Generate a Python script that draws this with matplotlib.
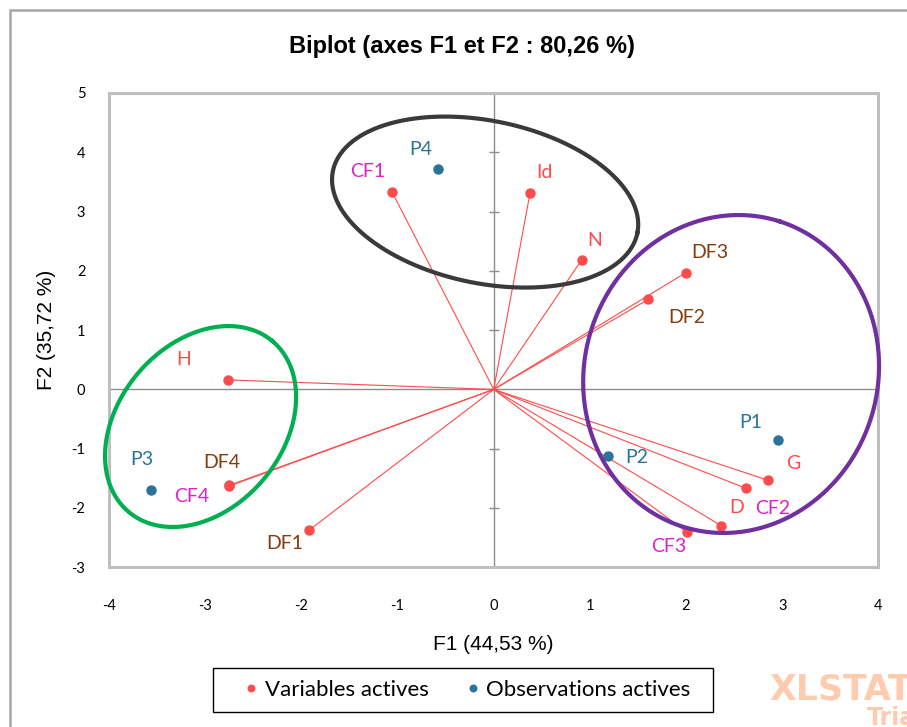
import numpy as np
import matplotlib
matplotlib.use("Agg")
import matplotlib.pyplot as plt
from matplotlib.patches import Rectangle

# ---------------- data ----------------
var_names = ["CF1", "Id", "N", "DF3", "DF2", "H", "DF4", "CF4", "DF1", "G", "CF2", "D", "CF3"]
var_x = [-1.057, 0.379, 0.917, 2.000, 1.609, -2.759, -2.749, -2.752, -1.917, 2.849, 2.628, 2.368, 2.011]
var_y = [3.33, 3.32, 2.19, 1.97, 1.52, 0.16, -1.63, -1.62, -2.37, -1.53, -1.67, -2.30, -2.41]

obs_names = ["P1", "P2", "P3", "P4"]
obs_x = [2.954, 1.186, -3.56, -0.575]
obs_y = [-0.86, -1.13, -1.70, 3.71]

xticks = [-4, -3, -2, -1, 0, 1, 2, 3, 4]
yticks = [-3, -2, -1, 0, 1, 2, 3, 4, 5]

title = "Biplot (axes F1 et F2 : 80,26 %)"
xlabel = "F1 (44,53 %)"
ylabel = "F2 (35,72 %)"
legend_labels = ["Variables actives", "Observations actives"]

# ---------------- styles / positions ----------------
RED = "#FF4B4B"
MAG = "#E020C8"
BROWN = "#843C0C"
BLUE = "#2A7399"
label_color = {"CF1": MAG, "CF2": MAG, "CF3": MAG, "CF4": MAG,
               "DF1": BROWN, "DF2": BROWN, "DF3": BROWN, "DF4": BROWN,
               "Id": RED, "N": RED, "H": RED, "G": RED, "D": RED}
# label offsets (pixels) from the point
var_off = {"CF1": (-24, 20), "Id": (14, 20), "N": (13, 19), "DF3": (24, 20),
           "DF2": (38, -18), "H": (-45, 20), "DF4": (-8, 24), "CF4": (-37, -11),
           "DF1": (-25, -14), "G": (26, 17), "CF2": (26, -20), "D": (15, 18),
           "CF3": (-18, -14)}
obs_off = {"P1": (-27, 18), "P2": (29, -1), "P3": (-10, 31), "P4": (-18, 20)}

# ellipses: center, two conjugate semi-diameter vectors (data units), colour
ellipses = [
    ((-0.089, 3.16), (1.583, -0.523), (-0.168, -1.344), "#3A3A3A"),
    ((2.469, 0.26), (0.503, 2.575), (1.454, -0.747), "#7030A0"),
    ((-3.048, -0.626), (0.748, 1.440), (0.654, -0.893), "#00B050"),
]

CAL = ["Lato", "DejaVu Sans"]
ARIAL = ["Liberation Sans", "DejaVu Sans"]
W, H = 907, 727

fig = plt.figure(figsize=(9.07, 7.27), dpi=100)
ax = fig.add_axes([0.1202, 0.2197, 0.8482, 0.6524])

ax.set_xlim(-4, 4)
ax.set_ylim(-3, 5)

for s in ax.spines.values():
    s.set_color("#BFBFBF")
    s.set_linewidth(2.2)

ax.axhline(0, color="#8C8C8C", lw=1.0, zorder=1)
ax.axvline(0, color="#8C8C8C", lw=1.0, zorder=1)
# tick marks on the vertical zero axis
ax.plot(np.zeros(len(yticks)), yticks, linestyle="none", marker="_",
        markersize=7, markeredgewidth=1.0, color="#8C8C8C", zorder=1, clip_on=False)

ax.set_xticks(xticks)
ax.set_yticks(yticks)
ax.set_xticklabels([str(t) for t in xticks], family=CAL, fontsize=10.5)
ax.set_yticklabels([str(t) for t in yticks], family=CAL, fontsize=10.5)
ax.tick_params(axis="x", length=0, pad=22.5)
ax.tick_params(axis="y", length=0, pad=17)

# vectors
for x, y in zip(var_x, var_y):
    ax.plot([0, x], [0, y], color=RED, lw=0.8, zorder=2)
ax.plot(var_x, var_y, linestyle="none", marker="o", ms=6.5, color=RED,
        zorder=3, label=legend_labels[0])
ax.plot(obs_x, obs_y, linestyle="none", marker="o", ms=6.5, color=BLUE,
        zorder=3, label=legend_labels[1])

for n, x, y in zip(var_names, var_x, var_y):
    ax.annotate(n, (x, y), xytext=var_off[n], textcoords="offset pixels",
                ha="center", va="center", color=label_color[n],
                family=CAL, fontsize=14)
for n, x, y in zip(obs_names, obs_x, obs_y):
    ax.annotate(n, (x, y), xytext=obs_off[n], textcoords="offset pixels",
                ha="center", va="center", color=BLUE,
                family=CAL, fontsize=14)

t = np.linspace(0, 2 * np.pi, 400)
for (cx, cy), (ux, uy), (vx, vy), col in ellipses:
    ex = cx + ux * np.cos(t) + vx * np.sin(t)
    ey = cy + uy * np.cos(t) + vy * np.sin(t)
    ax.plot(ex, ey, color=col, lw=3.0, zorder=4, clip_on=False)

fig.text(462 / W, 1 - 46 / H, title, family=ARIAL, fontsize=17,
         fontweight="bold", ha="center", va="center")
ax.set_xlabel(xlabel, family=ARIAL, fontsize=15, labelpad=16)
ax.set_ylabel(ylabel, family=ARIAL, fontsize=15, labelpad=11)

h, l = ax.get_legend_handles_labels()
leg = fig.legend(h, l, loc="center", bbox_to_anchor=(467.5 / W, 1 - 690 / H), ncol=2,
                 frameon=False, markerscale=0.72,
                 handlelength=0.6, handletextpad=0.3, columnspacing=1.7,
                 borderpad=0.0, borderaxespad=0, prop={"family": CAL, "size": 16})
# legend box
fig.patches.append(Rectangle((213 / W, 1 - 712 / H), 500 / W, 44 / H,
                             transform=fig.transFigure, fill=False,
                             edgecolor="black", lw=1.0))

# outer chart border
fig.patches.append(Rectangle((10 / W, -0.05), 1.2, 1 - 10 / H + 0.05,
                             transform=fig.transFigure, fill=False,
                             edgecolor="#A6A6A6", lw=1.8))

# watermark
fig.text(769 / W, 1 - 689 / H, "XLSTAT", color="#FFCBAE", fontsize=25,
         fontweight="bold", family=["DejaVu Sans"], ha="left", va="center")
fig.text(867 / W, 1 - 718 / H, "Trial", color="#FFCBAE", fontsize=17,
         fontweight="bold", family=["DejaVu Sans"], ha="left", va="center")

fig.savefig("out.png", dpi=100)
